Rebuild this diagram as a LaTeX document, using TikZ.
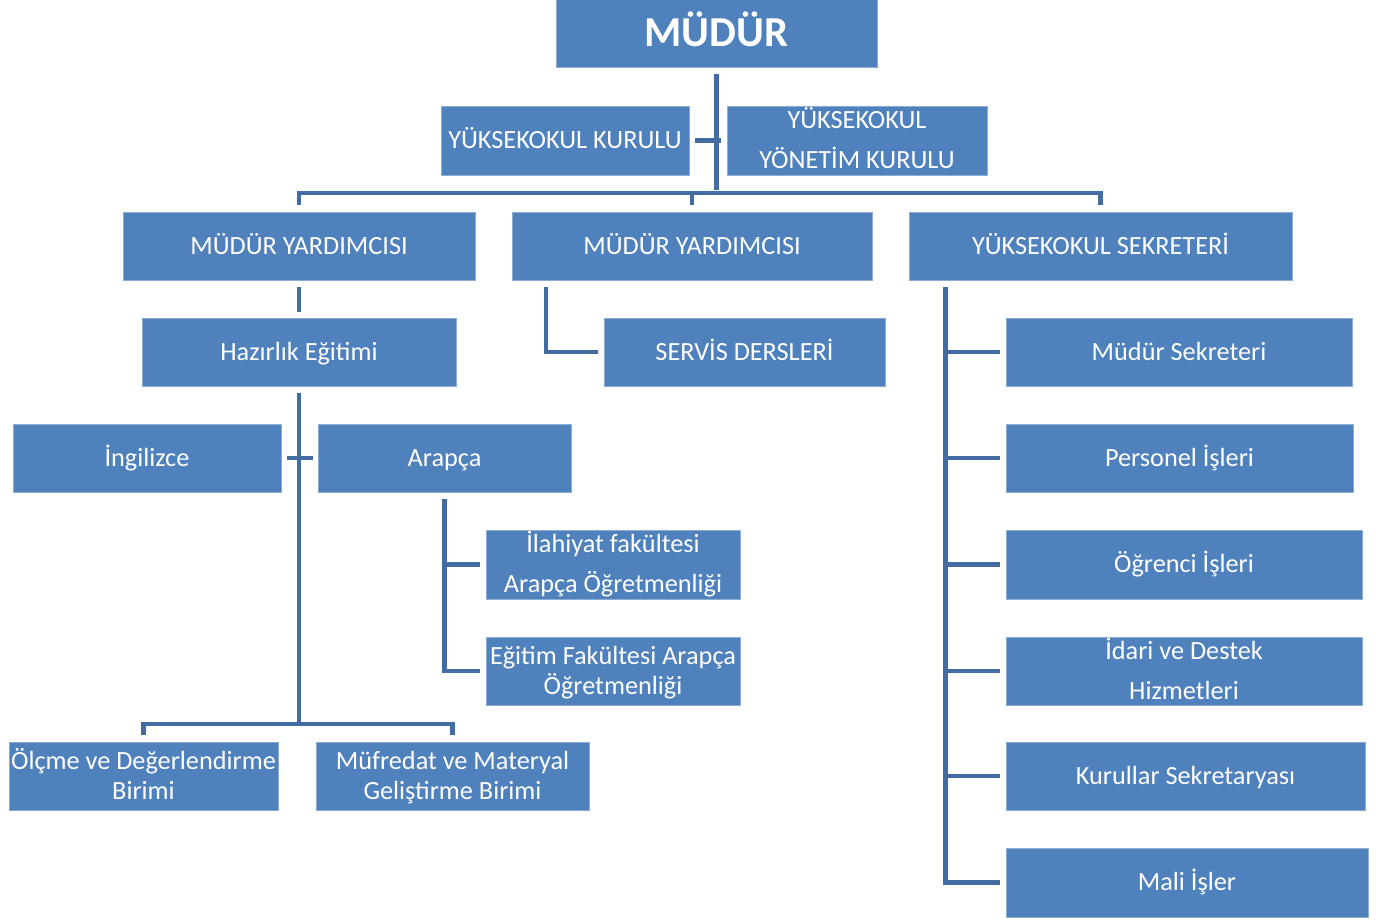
\documentclass[tikz,border=0pt]{standalone}
\usepackage{fontspec}
\setmainfont{Carlito}
\usepackage{tikz}

\definecolor{kutumavi}{RGB}{79,129,189}
\definecolor{kenarmavi}{RGB}{140,172,212}
\definecolor{hatmavi}{RGB}{66,108,162}
\newcommand{\kutustrut}{\rule[-0.28em]{0pt}{1.2em}}

\begin{document}
\begin{tikzpicture}[x=0.75pt,y=0.75pt,yscale=-1,xscale=1,
    kutu/.style={draw=kenarmavi, line width=0.5pt, fill=kutumavi, text=white, inner sep=0pt,
        align=center, font=\fontsize{19.7}{22}\selectfont,
        execute at begin node=\kutustrut, execute at end node=\kutustrut},
    genis/.style={inner ysep=-3pt},
    boy/.style 2 args={minimum width=#1*0.75pt, minimum height=#2*0.75pt},
    hat/.style={draw=hatmavi, line width=3.6pt}]
        \useasboundingbox (0,0) rectangle (1376,921);
        % kutular
        \node [kutu, boy={321}{68}, font=\fontsize{32}{38}\selectfont\bfseries] (mudur) at (716.5,33) {MÜDÜR};
        \node [kutu, boy={248}{69}] (kurul) at (565,140.5) {YÜKSEKOKUL KURULU};
        \node [kutu, genis, boy={260}{69}] (yonetim) at (857,140.5) {\kutustrut YÜKSEKOKUL\\[8pt] YÖNETİM KURULU};
        \node [kutu, boy={352}{68}] (yard1) at (299,246) {MÜDÜR YARDIMCISI};
        \node [kutu, boy={360}{68}] (yard2) at (692,246) {MÜDÜR YARDIMCISI};
        \node [kutu, boy={383}{68}] (sekreter) at (1100.5,246) {YÜKSEKOKUL SEKRETERİ};
        \node [kutu, boy={314}{68}] (hazirlik) at (299,352) {Hazırlık Eğitimi};
        \node [kutu, boy={281}{68}] (servis) at (744.5,352) {SERVİS DERSLERİ};
        \node [kutu, boy={346}{68}] (msek) at (1179,352) {Müdür Sekreteri};
        \node [kutu, boy={268}{68}] (ingilizce) at (147,458) {İngilizce};
        \node [kutu, boy={253}{68}] (arapca) at (444.5,458) {Arapça};
        \node [kutu, boy={347}{68}] (personel) at (1179.5,458) {Personel İşleri};
        \node [kutu, genis, boy={254}{69}] (ilahiyat) at (613,564.5) {\kutustrut İlahiyat fakültesi\\[8pt] Arapça Öğretmenliği};
        \node [kutu, boy={356}{69}] (ogrenci) at (1184,564.5) {Öğrenci İşleri};
        \node [kutu, boy={254}{68}] (egitim) at (613,671) {\kutustrut Eğitim Fakültesi Arapça\\ Öğretmenliği};
        \node [kutu, genis, boy={356}{68}] (idari) at (1184,671) {\kutustrut İdari ve Destek\\[8pt] Hizmetleri};
        \node [kutu, boy={269}{68}] (olcme) at (143.5,776) {\kutustrut Ölçme ve Değerlendirme\\ Birimi};
        \node [kutu, boy={273}{68}] (mufredat) at (452.5,776) {\kutustrut Müfredat ve Materyal\\ Geliştirme Birimi};
        \node [kutu, boy={359}{68}] (kurullar) at (1185.5,776) {Kurullar Sekretaryası};
        \node [kutu, boy={362}{69}] (mali) at (1187,882.5) {Mali İşler};
        % baglanti noktalari
        \coordinate (ust) at (716.5,193);
        \coordinate (alt) at (299,724);
        % hatlar
        \draw [hat] (mudur.south) ++(0,7) -- ([yshift=-2.25pt]ust);
        \draw [hat] (kurul.east) ++(6,0) -- ++(26,0);
        \draw [hat] (yard1.north) ++(0,-7) |- (sekreter.north |- ust) -- ++(0,12);
        \draw [hat] (yard2.north) ++(0,-7) -- (yard2.north |- ust);
        \draw [hat] (yard1.south) ++(0,7) -- ++(0,25);
        \draw [hat] (yard2.south) ++(-146,7) |- ([xshift=-4.5pt]servis.west);
        \draw [hat] (hazirlik.south) ++(0,7) -- (alt);
        \draw [hat] (ingilizce.east) ++(6,0) -- ++(26,0);
        \draw [hat] (olcme.north) ++(0,-7) |- (mufredat.north |- alt) -- ++(0,11);
        \draw [hat] (arapca.south) ++(0,7) |- ([xshift=-4.5pt]egitim.west);
        \draw [hat] (arapca.south |- ilahiyat.west) -- ([xshift=-4.5pt]ilahiyat.west);
        \draw [hat] (sekreter.south) ++(-155,7) |- ([xshift=-4.5pt]mali.west);
        \foreach \birim in {msek,personel,ogrenci,idari,kurullar}
            \draw [hat] ([xshift=-4.5pt]\birim.west) -- ++(-56,0);
    \end{tikzpicture}
\end{document}
